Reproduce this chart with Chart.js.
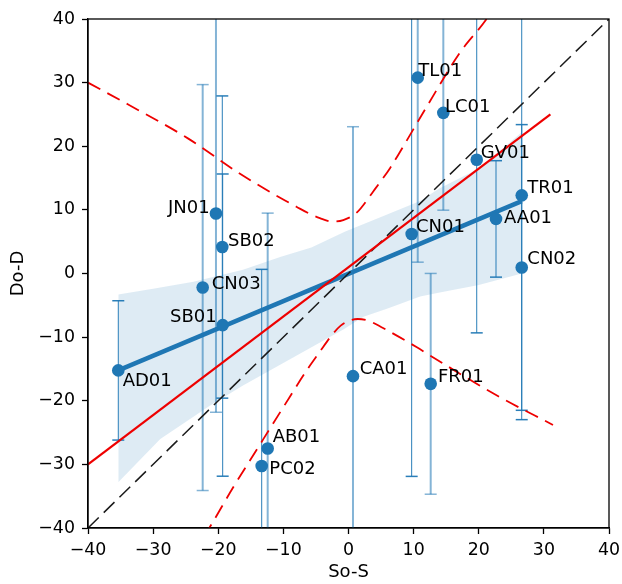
<!DOCTYPE html>
<html><head><meta charset="utf-8">
<script src="https://cdn.jsdelivr.net/npm/chart.js@4.4.0/dist/chart.umd.min.js"></script>
<style>html,body{margin:0;padding:0;background:#fff}#wrap{width:622px;height:584px}</style>
</head><body><div id="wrap"><canvas id="c" width="622" height="584"></canvas></div>
<script>
// ---- data ----
const siteNames = ['AD01','SB01','CN03','SB02','JN01','AB01','PC02','CA01','FR01','CN01','TL01','LC01','GV01','AA01','TR01','CN02'];
const soS  = [-35.35,-19.32,-22.39,-19.38,-20.35,-12.41,-13.33, 0.69,12.62, 9.70,10.63,14.56,19.69,22.65,26.60,26.60];
const doD  = [-15.23, -8.11, -2.21,  4.16,  9.44,-27.51,-30.25,-16.13,-17.34,6.21,30.78,25.25,17.87, 8.58,12.28, 0.95];
const doDErr = [10.95, 23.75, 31.9, 23.75, 31.25, 37.0, 30.9, 39.2, 17.35, 38.1, 29.0, 15.3, 27.2, 9.15, 35.25, 22.45];

const regLine   = [[-35.35,-15.23],[26.6,11.38]];
const bandUpper = [[-35.35,-3.3],[-30,-2.4],[-23.8,-1.3],[-16.2,0.6],[-10.5,2.6],[-5.7,4.1],[-0.5,6.6],[4.8,8.8],[11,11.4],[14,13.4],[20.2,16.6],[26.6,22.2]];
const bandLower = [[-35.35,-32.8],[-28.9,-26.0],[-21.3,-20.8],[-16.2,-17.6],[-8.5,-13.2],[-0.8,-8.8],[2.3,-6.8],[6,-5.5],[11,-3.6],[14,-3.0],[20,-1.8],[26.6,0.0]];
const fitLine   = [[-40,-30],[31,25]];
const fitUpper  = [[-40,30.0],[-33.9,26.6],[-24.6,21.2],[-17,15.9],[-10.5,11.9],[-8,10.5],[-6,9.4],[-4.4,8.7],[-2.5,8.15],[-0.8,8.4],[1.3,9.6],[3.8,12.9],[6.4,16.6],[7.9,19.1],[12,26.2],[17.1,34.7],[21.2,40.0],[22,41.3]];
const fitLower  = [[-22.2,-41.3],[-21.5,-40.2],[-17.7,-33.6],[-14.1,-27.7],[-10,-21.0],[-6.4,-15.2],[-4.4,-12.3],[-2.8,-10.0],[-1.2,-8.2],[0.3,-7.35],[1.4,-7.15],[3,-7.4],[5,-8.4],[10.5,-11.6],[12.7,-13.0],[23,-19.3],[31.4,-23.8]];
const oneToOne  = [[-40,-40],[40,40]];
const tickValues = [-40,-30,-20,-10,0,10,20,30,40];
const xTitle = 'So-S', yTitle = 'Do-D';

// ---- styles (not data) ----
const errStyle = ['d','d','l','d','l','l','d','l','l','d','l','l','d','d','d','d'];
const labelOffsets = {AD01:[4.4,10.7,'left'],SB01:[-6,-8,'right'],CN03:[9,-3,'left'],SB02:[5.7,-5.5,'left'],JN01:[-6.3,-5,'right'],
  AB01:[5,-11,'left'],PC02:[7.6,3.4,'left'],CA01:[6.7,-7,'left'],FR01:[7.3,-6,'left'],CN01:[4.3,-6.7,'left'],TL01:[0.6,-6,'left'],
  LC01:[1.7,-6,'left'],GV01:[4,-6,'left'],TR01:[5.6,-7,'left'],AA01:[8,-1,'left'],CN02:[5.6,-8,'left']};
const BLUE = '#1f77b4';
const FONT = '"DejaVu Sans", sans-serif';
const pts = a => a.map(p => ({x:p[0], y:p[1]}));

const errSets = siteNames.map((n,i) => {
  const c = errStyle[i]==='l' ? 'rgba(31,119,180,0.55)' : 'rgba(31,119,180,0.95)';
  return {data:[{x:soS[i],y:doD[i]-doDErr[i]},{x:soS[i],y:doD[i]+doDErr[i]}], showLine:true,
    borderColor:c, borderWidth: errStyle[i]==='l' ? 2 : 1, pointStyle:'line', pointRadius:6,
    pointBorderWidth:1.5, pointBorderColor:c, pointBackgroundColor:c, order:9};
});

const labelPlugin = {id:'ptlabels', afterDatasetsDraw(chart){
  const {ctx, scales:{x,y}} = chart;
  ctx.save(); ctx.font = '18px ' + FONT; ctx.fillStyle = '#000'; ctx.textBaseline = 'middle';
  siteNames.forEach((n,i) => { const o = labelOffsets[n]; ctx.textAlign = o[2];
    ctx.fillText(n, x.getPixelForValue(soS[i]) + o[0], y.getPixelForValue(doD[i]) + o[1]); });
  ctx.restore();
}};
const framePlugin = {id:'frame', afterDatasetsDraw(chart){
  const {ctx, chartArea:a} = chart; ctx.save(); ctx.strokeStyle='#000'; ctx.lineWidth=1.3;
  ctx.strokeRect(a.left, a.top, a.right-a.left, a.bottom-a.top); ctx.restore();
}};
const fmt = v => v < 0 ? '\u2212' + Math.abs(v) : String(v);
const axis = (title, isX) => ({
  type:'linear', min:-40, max:40,
  afterBuildTicks: s => { s.ticks = tickValues.map(v => ({value:v})); },
  afterFit: s => { if (isX) { s.height = 56; s.paddingLeft = 0; s.paddingRight = 0; } else { s.width = 88; s.paddingTop = 0; s.paddingBottom = 0; } },
  grid:{drawOnChartArea:false, drawTicks:true, tickLength:6, tickWidth:1.3, tickColor:'#000'},
  border:{display:true, color:'#000', width:1.3},
  ticks:{color:'#000', font:{family:FONT, size:17.4}, padding: isX ? 6 : 7, callback: v => fmt(v), maxRotation:0, autoSkip:false},
  title:{display:true, text:title, color:'#000', font:{family:FONT, size:18}, padding: isX ? {top:0,bottom:1} : {top:8,bottom:0}}
});

new Chart(document.getElementById('c'), {
  type:'scatter',
  data:{datasets:[
    {data:pts(bandUpper), showLine:true, borderWidth:0, pointRadius:0, fill:'+1', backgroundColor:'rgba(31,119,180,0.15)', order:10},
    {data:pts(bandLower), showLine:true, borderWidth:0, pointRadius:0, fill:false, order:10},
    ...errSets,
    {data:pts(regLine), showLine:true, borderColor:BLUE, borderWidth:4.5, pointRadius:0, order:8},
    {data:pts(oneToOne), showLine:true, borderColor:'#1a1a1a', borderWidth:1.5, borderDash:[15,7], pointRadius:0, order:7},
    {data:pts(fitUpper), showLine:true, borderColor:'#ee0000', borderWidth:1.8, borderDash:[14,8], pointRadius:0, cubicInterpolationMode:'monotone', order:6},
    {data:pts(fitLower), showLine:true, borderColor:'#ee0000', borderWidth:1.8, borderDash:[14,8], pointRadius:0, cubicInterpolationMode:'monotone', order:6},
    {data:pts(fitLine), showLine:true, borderColor:'#ee0000', borderWidth:2.2, pointRadius:0, order:5},
    {data:soS.map((v,i)=>({x:v,y:doD[i]})), pointRadius:6.3, pointBackgroundColor:BLUE, pointBorderWidth:0, order:1}
  ]},
  options:{
    responsive:false, animation:false, events:[],
    layout:{padding:{top:19, right:13, left:0, bottom:0}},
    plugins:{legend:{display:false}, tooltip:{enabled:false}},
    scales:{x:axis(xTitle,true), y:axis(yTitle,false)}
  },
  plugins:[labelPlugin, framePlugin]
});
</script></body></html>
